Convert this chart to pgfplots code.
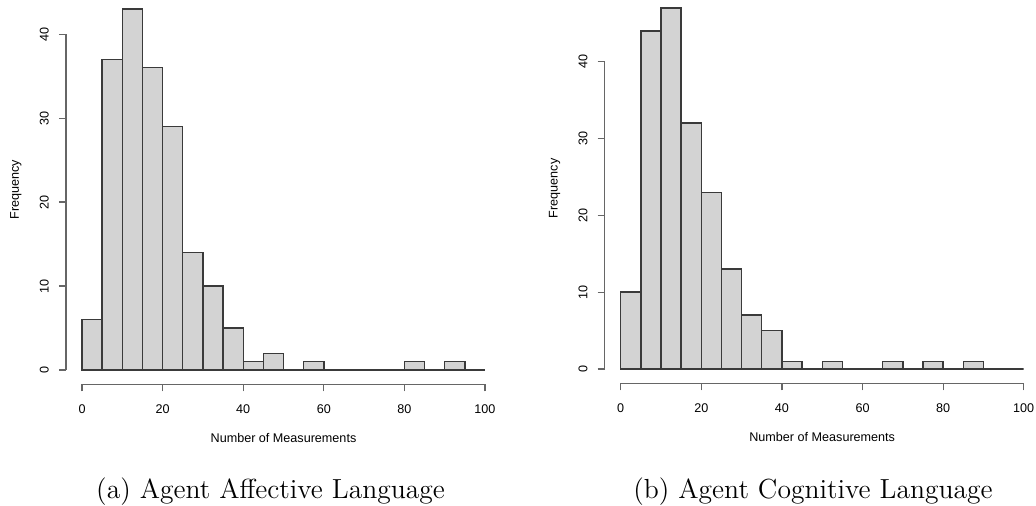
\documentclass[border=0pt]{standalone}
\usepackage{fontspec}
\usepackage{pgfplots}
\pgfplotsset{compat=1.18}
\newfontfamily\rfont{Liberation Sans}
\definecolor{barfill}{HTML}{D3D3D3}
\definecolor{baredge}{HTML}{3A3A3A}
\definecolor{axgray}{HTML}{666666}
\newcommand{\rsize}{\rfont\fontsize{6.3}{7}\selectfont}

% Base-graphics style histogram: axis lines span first to last tick only
\pgfplotsset{
  rhist/.style={
    scale only axis,
    width=217.6pt, height=195pt,
    xmin=-4, xmax=104,
    axis x line*=bottom, axis y line*=left,
    axis line style={draw=none},
    tick align=outside,
    major tick length=3.5pt,
    every tick/.style={draw=axgray, line width=0.6pt},
    xtick={0,20,...,100},
    ytick={0,10,20,30,40},
    /pgf/number format/assume math mode=true,
    tick label style={font=\rsize},
    xticklabel style={anchor=center, yshift=-8.75pt},
    yticklabel style={xshift=-7.3pt, rotate=90, anchor=center},
    every axis x label/.style={at={(axis description cs:0.5,-0.137)}, anchor=center, font=\rsize},
    every axis y label/.style={at={(axis description cs:-0.115,0.5)}, rotate=90, anchor=center, font=\rsize},
    xlabel={Number of Measurements},
    ylabel={Frequency},
    clip=false,
  },
  rbars/.style={ybar, bar width=5, bar shift=0pt,
    fill=barfill, draw=baredge, line width=0.7pt},
}

\begin{document}
\begin{tikzpicture}
\useasboundingbox (0,0) rectangle (518pt,-253pt);

% (a) Agent Affective Language
\begin{axis}[rhist, at={(32.95pt,-192.25pt)}, anchor=south west,
  ymin=-1.72, ymax=44.72]
  \addplot[rbars] coordinates {
    (2.5,6) (7.5,37) (12.5,43) (17.5,36) (22.5,29) (27.5,14) (32.5,10)
    (37.5,5) (42.5,1) (47.5,2) (52.5,0) (57.5,1) (62.5,0) (67.5,0)
    (72.5,0) (77.5,0) (82.5,1) (87.5,0) (92.5,1) (97.5,0)};
  \draw[axgray, line width=0.6pt] (axis cs:0,-1.72) -- (axis cs:100,-1.72);
  \draw[axgray, line width=0.6pt] (axis cs:-4,0) -- (axis cs:-4,40);
\end{axis}

% (b) Agent Cognitive Language
\begin{axis}[rhist, at={(302.3pt,-191.7pt)}, anchor=south west,
  ymin=-1.88, ymax=48.88]
  \addplot[rbars] coordinates {
    (2.5,10) (7.5,44) (12.5,47) (17.5,32) (22.5,23) (27.5,13) (32.5,7)
    (37.5,5) (42.5,1) (47.5,0) (52.5,1) (57.5,0) (62.5,0) (67.5,1)
    (72.5,0) (77.5,1) (82.5,0) (87.5,1) (92.5,0) (97.5,0)};
  \draw[axgray, line width=0.6pt] (axis cs:0,-1.88) -- (axis cs:100,-1.88);
  \draw[axgray, line width=0.6pt] (axis cs:-4,0) -- (axis cs:-4,40);
\end{axis}

\node[anchor=base, inner sep=0pt, font=\fontsize{13.8}{16}\selectfont] at (135.3pt,-249pt) {(a) Agent Affective Language};
\node[anchor=base, inner sep=0pt, font=\fontsize{13.8}{16}\selectfont] at (406.5pt,-249pt) {(b) Agent Cognitive Language};
\end{tikzpicture}
\end{document}
